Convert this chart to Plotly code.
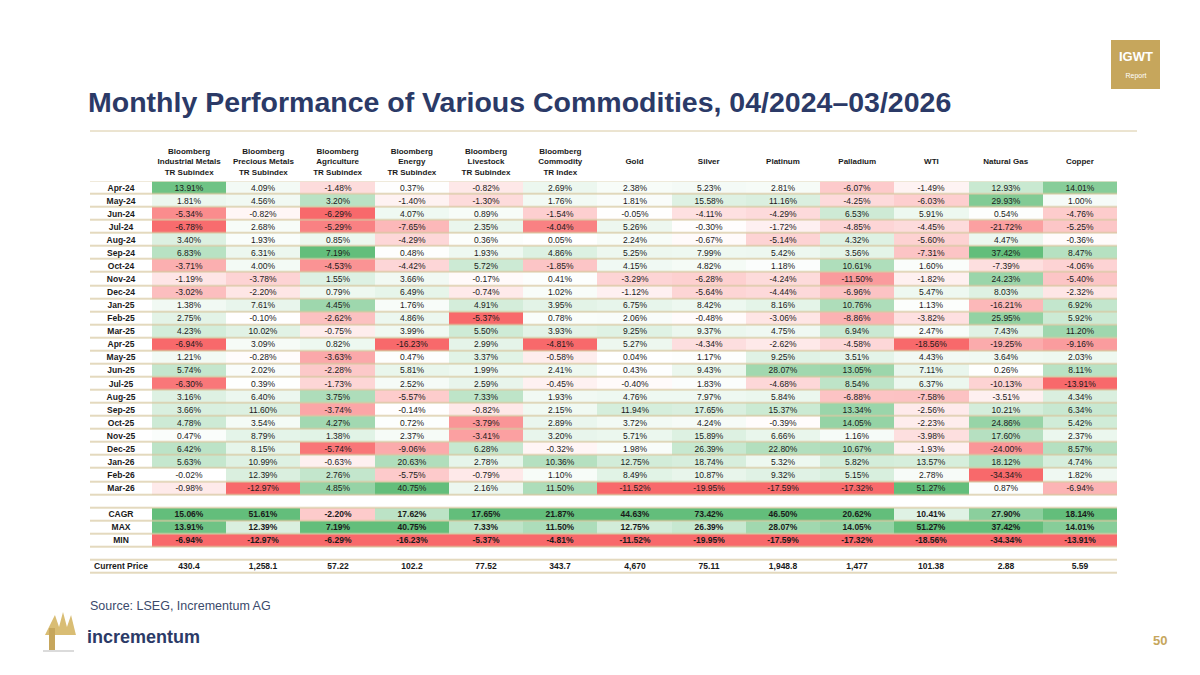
import numpy as np
import plotly.graph_objects as go

# columnas y meses
columnas = ["Bloomberg<br>Industrial Metals<br>TR Subindex", "Bloomberg<br>Precious Metals<br>TR Subindex",
            "Bloomberg<br>Agriculture<br>TR Subindex", "Bloomberg<br>Energy<br>TR Subindex",
            "Bloomberg<br>Livestock<br>TR Subindex", "Bloomberg<br>Commodity<br>TR Index",
            "Gold", "Silver", "Platinum", "Palladium", "WTI", "Natural Gas", "Copper"]
meses = ["Apr-24", "May-24", "Jun-24", "Jul-24", "Aug-24", "Sep-24", "Oct-24", "Nov-24", "Dec-24",
         "Jan-25", "Feb-25", "Mar-25", "Apr-25", "May-25", "Jun-25", "Jul-25", "Aug-25", "Sep-25",
         "Oct-25", "Nov-25", "Dec-25", "Jan-26", "Feb-26", "Mar-26"]

ind_metals = [13.91, 1.81, -5.34, -6.78, 3.40, 6.83, -3.71, -1.19, -3.02, 1.38, 2.75, 4.23, -6.94, 1.21, 5.74, -6.30, 3.16, 3.66, 4.78, 0.47, 6.42, 5.63, -0.02, -0.98]
precious = [4.09, 4.56, -0.82, 2.68, 1.93, 6.31, 4.00, -3.78, -2.20, 7.61, -0.10, 10.02, 3.09, -0.28, 2.02, 0.39, 6.40, 11.60, 3.54, 8.79, 8.15, 10.99, 12.39, -12.97]
agri = [-1.48, 3.20, -6.29, -5.29, 0.85, 7.19, -4.53, 1.55, 0.79, 4.45, -2.62, -0.75, 0.82, -3.63, -2.28, -1.73, 3.75, -3.74, 4.27, 1.38, -5.74, -0.63, 2.76, 4.85]
energy = [0.37, -1.40, 4.07, -7.65, -4.29, 0.48, -4.42, 3.66, 6.49, 1.76, 4.86, 3.99, -16.23, 0.47, 5.81, 2.52, -5.57, -0.14, 0.72, 2.37, -9.06, 20.63, -5.75, 40.75]
livestock = [-0.82, -1.30, 0.89, 2.35, 0.36, 1.93, 5.72, -0.17, -0.74, 4.91, -5.37, 5.50, 2.99, 3.37, 1.99, 2.59, 7.33, -0.82, -3.79, -3.41, 6.28, 2.78, -0.79, 2.16]
commodity = [2.69, 1.76, -1.54, -4.04, 0.05, 4.86, -1.85, 0.41, 1.02, 3.95, 0.78, 3.93, -4.81, -0.58, 2.41, -0.45, 1.93, 2.15, 2.89, 3.20, -0.32, 10.36, 1.10, 11.50]
gold = [2.38, 1.81, -0.05, 5.26, 2.24, 5.25, 4.15, -3.29, -1.12, 6.75, 2.06, 9.25, 5.27, 0.04, 0.43, -0.40, 4.76, 11.94, 3.72, 5.71, 1.98, 12.75, 8.49, -11.52]
silver = [5.23, 15.58, -4.11, -0.30, -0.67, 7.99, 4.82, -6.28, -5.64, 8.42, -0.48, 9.37, -4.34, 1.17, 9.43, 1.83, 7.97, 17.65, 4.24, 15.89, 26.39, 18.74, 10.87, -19.95]
platinum = [2.81, 11.16, -4.29, -1.72, -5.14, 5.42, 1.18, -4.24, -4.44, 8.16, -3.06, 4.75, -2.62, 9.25, 28.07, -4.68, 5.84, 15.37, -0.39, 6.66, 22.80, 5.32, 9.32, -17.59]
palladium = [-6.07, -4.25, 6.53, -4.85, 4.32, 3.56, 10.61, -11.50, -6.96, 10.76, -8.86, 6.94, -4.58, 3.51, 13.05, 8.54, -6.88, 13.34, 14.05, 1.16, 10.67, 5.82, 5.15, -17.32]
wti = [-1.49, -6.03, 5.91, -4.45, -5.60, -7.31, 1.60, -1.82, 5.47, 1.13, -3.82, 2.47, -18.56, 4.43, 7.11, 6.37, -7.58, -2.56, -2.23, -3.98, -1.93, 13.57, 2.78, 51.27]
nat_gas = [12.93, 29.93, 0.54, -21.72, 4.47, 37.42, -7.39, 24.23, 8.03, -16.21, 25.95, 7.43, -19.25, 3.64, 0.26, -10.13, -3.51, 10.21, 24.86, 17.60, -24.00, 18.12, -34.34, 0.87]
copper = [14.01, 1.00, -4.76, -5.25, -0.36, 8.47, -4.06, -5.40, -2.32, 6.92, 5.92, 11.20, -9.16, 2.03, 8.11, -13.91, 4.34, 6.34, 5.42, 2.37, 8.57, 4.74, 1.82, -6.94]

cagr = [15.06, 51.61, -2.20, 17.62, 17.65, 21.87, 44.63, 73.42, 46.50, 20.62, 10.41, 27.90, 18.14]
precio_actual = ["430.4", "1,258.1", "57.22", "102.2", "77.52", "343.7", "4,670", "75.11", "1,948.8", "1,477", "101.38", "2.88", "5.59"]

series = [ind_metals, precious, agri, energy, livestock, commodity, gold, silver, platinum, palladium, wti, nat_gas, copper]

# filas: 24 meses, vacio, CAGR, MAX, MIN, vacio, Current Price
etiquetas = meses + ["", "CAGR", "MAX", "MIN", "", "Current Price"]
n_filas = len(etiquetas)

z = np.zeros((n_filas, 14))
texto = [["" for _ in range(14)] for _ in range(n_filas)]
for i, lab in enumerate(etiquetas):
    texto[i][0] = "<b>%s</b>" % lab

for j, col in enumerate(series):
    vals = np.array(col)
    resumen = [cagr[j], vals.max(), vals.min()]
    todos = np.concatenate([vals, resumen])
    vmax, vmin = todos.max(), todos.min()
    norm = lambda v: v / vmax if v >= 0 else -v / vmin
    for i, v in enumerate(vals):
        z[i, j + 1] = norm(v)
        texto[i][j + 1] = "%.2f%%" % v
    for k, v in enumerate(resumen):
        z[25 + k, j + 1] = norm(v)
        texto[25 + k][j + 1] = "<b>%.2f%%</b>" % v
    texto[29][j + 1] = "<b>%s</b>" % precio_actual[j]

ancho_etiqueta = 62 / 74.2
bordes_x = [-ancho_etiqueta] + [float(k) for k in range(14)]  # 15 bordes para 14 columnas

fig = go.Figure(go.Heatmap(
    z=z, x=bordes_x, y=list(range(n_filas)),
    text=texto, texttemplate="%{text}",
    textfont=dict(size=8.5, color="#1a1a1a", family="Liberation Sans, Arial"),
    colorscale=[[0, "#F8696B"], [0.5, "#FFFFFF"], [1, "#63BE7B"]],
    zmin=-1, zmax=1, showscale=False, ygap=1.4, xgap=0, hoverinfo="skip"
))

encabezados = [c if "<br>" in c else "&nbsp;<br>%s<br>&nbsp;" % c for c in columnas]

fig.update_layout(
    width=1200, height=675,
    margin=dict(l=0, r=0, t=0, b=0),
    paper_bgcolor="white", plot_bgcolor="#d8c9a2",
    font=dict(family="Liberation Sans, Arial", color="#1a1a1a"),
    xaxis=dict(domain=[90 / 1200, 1117 / 1200], range=[-ancho_etiqueta, 13], side="top",
               tickvals=[k + 0.5 for k in range(13)], ticktext=["<b>%s</b>" % h for h in encabezados],
               tickfont=dict(size=8), showgrid=False, zeroline=False, ticks="", ticklabelstandoff=4),
    yaxis=dict(domain=[1 - 573.5 / 675, 1 - 181.5 / 675], range=[n_filas - 0.5, -0.5],
               showticklabels=False, showgrid=False, zeroline=False),
)

oro = "#c6a65c"
navy = "#2b3a67"
fig.add_annotation(x=86 / 1200, y=1 - 102 / 675, xref="paper", yref="paper", xanchor="left", yanchor="middle",
                   text="<b>Monthly Performance of Various Commodities, 04/2024–03/2026</b>",
                   showarrow=False, font=dict(size=28.5, color=navy))
fig.add_shape(type="line", xref="paper", yref="paper", x0=90 / 1200, x1=1137 / 1200,
              y0=1 - 131 / 675, y1=1 - 131 / 675, line=dict(color="#d8c9a2", width=1))
fig.add_annotation(x=88 / 1200, y=1 - 606 / 675, xref="paper", yref="paper", xanchor="left", yanchor="middle",
                   text="Source: LSEG, Incrementum AG", showarrow=False, font=dict(size=12.5, color="#3b4a6b"))
fig.add_annotation(x=85 / 1200, y=1 - 637 / 675, xref="paper", yref="paper", xanchor="left", yanchor="middle",
                   text="<b>incrementum</b>", showarrow=False, font=dict(size=18, color=navy))
# arbolito del logo
fig.add_shape(type="path", xref="paper", yref="paper",
              path="M 0.0375 0.0593 L 0.0458 0.0889 L 0.0492 0.0711 L 0.0525 0.0933 L 0.0558 0.0711 "
                   "L 0.0592 0.0889 L 0.0633 0.0593 L 0.0517 0.0593 Z",
              fillcolor="#d9bd74", line=dict(width=0))
fig.add_shape(type="rect", xref="paper", yref="paper", x0=49 / 1200, x1=55 / 1200,
              y0=1 - 650 / 675, y1=1 - 628 / 675, fillcolor=oro, line=dict(width=0))
fig.add_shape(type="line", xref="paper", yref="paper", x0=43 / 1200, x1=74 / 1200,
              y0=1 - 651 / 675, y1=1 - 651 / 675, line=dict(color="#cfcfcf", width=1.5))
fig.add_annotation(x=1160 / 1200, y=1 - 640 / 675, xref="paper", yref="paper", xanchor="center", yanchor="middle",
                   text="<b>50</b>", showarrow=False, font=dict(size=13, color=oro))
# caja IGWT
fig.add_shape(type="rect", xref="paper", yref="paper", x0=1111 / 1200, x1=1160 / 1200, layer="below",
              y0=1 - 89 / 675, y1=1 - 40 / 675, fillcolor=oro, line=dict(width=0))
fig.add_annotation(x=1136 / 1200, y=1 - 66 / 675, xref="paper", yref="paper", showarrow=False,
                   xanchor="center", yanchor="bottom", width=48, align="center",
                   text="<b>IGWT</b>", font=dict(size=13, color="white"))
fig.add_annotation(x=1136 / 1200, y=1 - 70 / 675, xref="paper", yref="paper", showarrow=False,
                   xanchor="center", yanchor="top", width=48, align="center",
                   text="Report", font=dict(size=7, color="white"))

fig.write_html("out.html", config={"displayModeBar": False})

# quitar el margen del body para que la figura quede en (0,0)
with open("out.html", encoding="utf-8") as f:
    html = f.read()
html = html.replace("<body>", '<body style="margin:0;overflow:hidden">', 1)
with open("out.html", "w", encoding="utf-8") as f:
    f.write(html)
